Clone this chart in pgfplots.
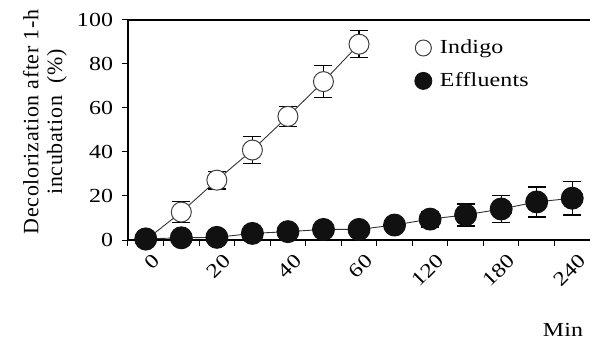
\documentclass[border=0pt]{standalone}
\usepackage{fontspec}
\setmainfont[Ligatures=NoCommon, FakeStretch=1.2, LetterSpace=1]{Liberation Serif}
\newfontfamily\ylfont[Ligatures=NoCommon, LetterSpace=3]{Liberation Serif}
\usepackage{pgfplots}
\pgfplotsset{compat=1.18}
\usepackage{pgfplotstable}
\usetikzlibrary{calc}
\definecolor{mk}{HTML}{111111}
\pgfplotstableread{
x y e
1 0 0
2 12.7 4.8
3 27.2 4.0
4 40.9 6.2
5 56.2 4.6
6 72.0 7.3
7 89.0 6.2
}\indigo
\pgfplotstableread{
x y e
1 0.5 0
2 1.0 0.5
3 1.2 0.5
4 3.0 1.0
5 3.8 1.0
6 4.8 1.0
7 4.8 1.0
8 6.8 2.0
9 9.5 3.6
10 11.4 5.0
11 14.1 6.1
12 17.3 6.8
13 19.0 7.7
}\effl
\begin{document}
\fontsize{20}{24}\selectfont
\begin{tikzpicture}
\begin{axis}[
  scale only axis, width=462bp, height=220bp,
  xmin=0.5, xmax=13.5, ymin=0, ymax=100,
  axis x line*=bottom, axis y line*=left,
  axis line style={line width=1.2bp, -},
  ytick={0,20,...,100},
  xtick={1,3,5,7,9,11,13},
  xticklabels={0,20,40,60,120,180,240},
  major x tick style={draw=none},
  minor xtick={0.5,1.5,...,13.5},
  minor x tick style={line width=1bp, black},
  minor tick length=6bp,
  tick align=outside, major tick length=6bp,
  y tick style={line width=1bp, black},
  tick label style={font=\fontsize{20}{24}\selectfont},
  /pgf/number format/assume math mode=true,
  xticklabel style={rotate=45, anchor=north east, xshift=6bp, yshift=-2bp},
  yticklabel style={xshift=-2bp},
  ylabel={\begin{tabular}{c}Decolorization after 1-h\\incubation\ \ (\%)\end{tabular}},
  ylabel style={font=\ylfont\fontsize{22}{24}\selectfont, yshift=-6bp, xshift=8bp},
  legend style={draw=none, fill=none, at={(rel axis cs:0.613,0.93)}, anchor=north west, font=\fontsize{20}{24}\selectfont, row sep=12bp},
  legend cell align=left,
  clip=false,
]
\coordinate (o) at (rel axis cs:0,0);
\draw[line width=1.2bp] (rel axis cs:0,1) -- (rel axis cs:1,1);
\addplot[color=black!80, line width=0.9bp, mark=*, mark size=10bp,
  mark options={fill=white, draw=black!75, line width=1bp},
  legend image code/.code={\path (0,0) (0.8cm,0); \draw[mark=*, mark size=8bp, mark options={fill=white, draw=black!75, line width=1bp}] plot coordinates {(0.3cm,0cm)};},
  error bars/.cd, y dir=both, y explicit,
  error bar style={line width=1.3bp, black},
  error mark options={rotate=90, mark size=9bp, line width=1.3bp, black}]
  table[x=x, y=y, y error=e] {\indigo};
\addlegendentry{Indigo}
\addplot[color=black!80, line width=0.9bp, mark=*, mark size=11bp,
  mark options={fill=mk, draw=mk},
  legend image code/.code={\path (0,0) (0.8cm,0); \draw[mark=*, mark size=8.5bp, mark options={fill=mk, draw=mk}] plot coordinates {(0.3cm,0cm)};},
  error bars/.cd, y dir=both, y explicit,
  error bar style={line width=1.3bp, black},
  error mark options={rotate=90, mark size=9bp, line width=1.3bp, black}]
  table[x=x, y=y, y error=e] {\effl};
\addlegendentry{Effluents}
\end{axis}
\node[anchor=east] at ($(o)+(462bp,-90bp)$) {Min};
\pgfresetboundingbox
\path ($(o)+(-128bp,-109bp)$) rectangle ($(o)+(462bp,240bp)$);
\end{tikzpicture}
\end{document}
